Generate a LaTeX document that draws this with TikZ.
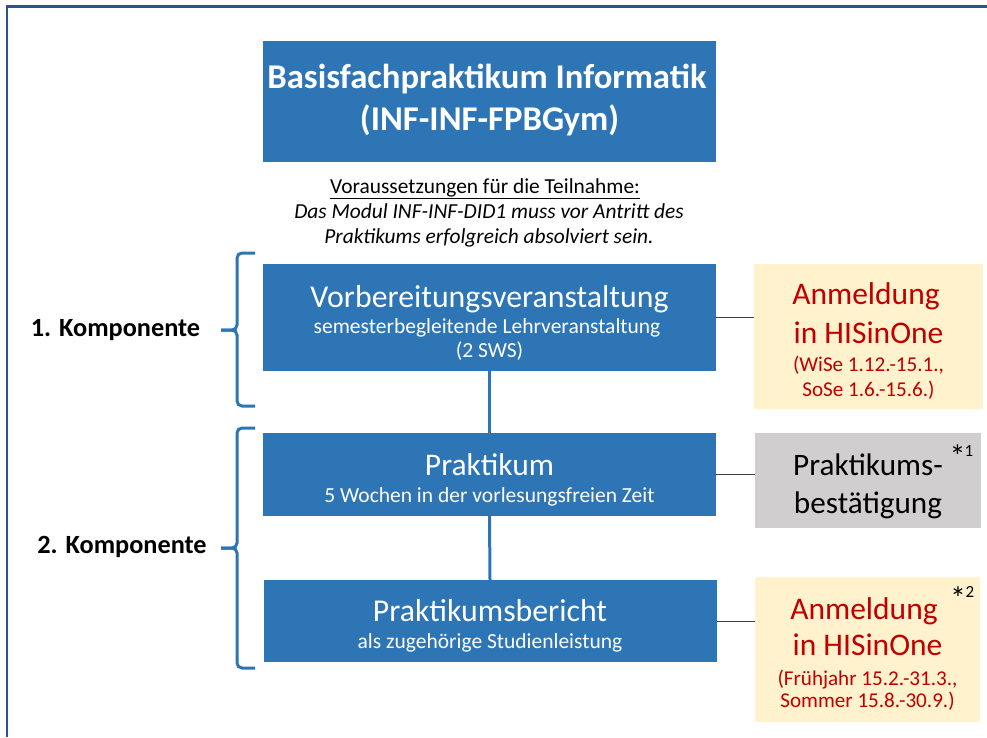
\documentclass[tikz,border=0pt]{standalone}
\usepackage{fontspec}
\setmainfont{Carlito}
\definecolor{boxblue}{HTML}{2E75B6}
\definecolor{framecol}{HTML}{2F528F}
\definecolor{notey}{HTML}{FFF2CC}
\definecolor{noteg}{HTML}{D0CECE}
\definecolor{notered}{HTML}{C00000}
\definecolor{linegray}{HTML}{404040}
\newcommand{\fs}[1]{\fontsize{#1}{#1}\selectfont}
\begin{document}
\begin{tikzpicture}[x=1pt,y=-1pt,
  bluebox/.style={fill=boxblue, draw=none, inner sep=0pt},
  notebox/.style={draw=none, inner sep=0pt, minimum width=228pt},
  wtxt/.style={anchor=base, text=white, inner sep=0pt},
  btxt/.style={anchor=base, text=black, inner sep=0pt},
  rtxt/.style={anchor=base, text=notered, inner sep=0pt},
  startxt/.style={anchor=base, text=black, inner sep=0pt, font=\fs{32}},
  digtxt/.style={anchor=base, text=black, inner sep=0pt, font=\fs{17}},
  bluecon/.style={draw=boxblue, line width=3pt},
  graycon/.style={draw=linegray, line width=1pt},
  bracestyle/.style={draw=boxblue, line width=3pt, rounded corners=5pt},
]
\useasboundingbox (0,0) rectangle (987,737);
\fill[white] (0,0) rectangle (987,737);
\draw[framecol, line width=2.5pt] (7,737) -- (7,6.5) -- (987,6.5);

% title
\node[bluebox, minimum width=453pt, minimum height=121pt] (title) at (489.5,101) {};
\node[wtxt, font=\fs{34.7}\bfseries] (titleA) at (487,88) {Basisfachpraktikum Informatik};
\node[wtxt, font=\fs{34.7}\bfseries] (titleB) at (489.5,130) {(INF-INF-FPBGym)};

% prerequisites
\node[btxt, font=\fs{21.4}] (preA) at (485,193) {\underline{Voraussetzungen für die Teilnahme:}};
\node[btxt, font=\fs{21.4}\itshape] (preB) at (489,218) {Das Modul INF-INF-DID1 muss vor Antritt des};
\node[btxt, font=\fs{21.4}\itshape] (preC) at (489,243) {Praktikums erfolgreich absolviert sein.};

% main boxes
\node[bluebox, minimum width=453pt, minimum height=107pt] (box1) at (489.5,317.5) {};
\node[wtxt, font=\fs{31.8}] (box1A) at (489.5,307) {Vorbereitungsveranstaltung};
\node[wtxt, font=\fs{21.5}] (box1B) at (487,333) {semesterbegleitende Lehrveranstaltung};
\node[wtxt, font=\fs{21.5}] (box1C) at (489.5,357) {(2 SWS)};

\node[bluebox, minimum width=453pt, minimum height=83pt] (box2) at (489.5,474.5) {};
\node[wtxt, font=\fs{31.5}] (box2A) at (489.5,475) {Praktikum};
\node[wtxt, font=\fs{21.5}] (box2B) at (489.5,502) {5 Wochen in der vorlesungsfreien Zeit};

\node[bluebox, minimum width=453pt, minimum height=82pt] (box3) at (490,621) {};
\node[wtxt, font=\fs{31.8}] (box3A) at (490,621) {Praktikumsbericht};
\node[wtxt, font=\fs{21.5}] (box3B) at (490,648) {als zugehörige Studienleistung};

\draw[bluecon] (box1.south) -- (box2.north);
\draw[bluecon] (box2.south) -- (box3.north);

% right notes
\node[notebox, fill=notey, minimum width=229pt, minimum height=145pt] (noteA) at (868.5,336.5) {};
\node[rtxt, font=\fs{31.5}] (noteA1) at (866,304) {Anmeldung};
\node[rtxt, font=\fs{31.5}] (noteA2) at (868.5,343) {in HISinOne};
\node[rtxt, font=\fs{21.1}] (noteA3) at (868.5,371) {(WiSe 1.12.-15.1.,};
\node[rtxt, font=\fs{21.1}] (noteA4) at (868.5,396) {SoSe 1.6.-15.6.)};

\node[notebox, fill=noteg, minimum width=226pt, minimum height=95pt] (noteB) at (868,480.5) {};
\node[btxt, font=\fs{31.2}] (noteB1) at (868,475) {Praktikums-};
\node[btxt, font=\fs{31.2}] (noteB2) at (868,513) {bestätigung};
\node[startxt] (starB) at (957.5,467) {*};
\node[digtxt] (digB) at (969,456) {1};

\node[notebox, fill=notey, minimum width=225pt, minimum height=145pt] (noteC) at (867.5,649.5) {};
\node[rtxt, font=\fs{31.5}] (noteC1) at (864,619) {Anmeldung};
\node[rtxt, font=\fs{31.5}] (noteC2) at (867.5,655) {in HISinOne};
\node[rtxt, font=\fs{21.1}] (noteC3) at (867.5,685) {(Frühjahr 15.2.-31.3.,};
\node[rtxt, font=\fs{21.1}] (noteC4) at (867.5,707) {Sommer 15.8.-30.9.)};
\node[startxt] (starC) at (958,609) {*};
\node[digtxt] (digC) at (970,597) {2};

\draw[graycon] (box1.east) -- (noteA.west |- box1.east);
\draw[graycon] (box2.east) -- (noteB.west |- box2.east);
\draw[graycon] (box3.east) -- (noteC.west |- box3.east);

% braces
\draw[bracestyle] (255,253) -- (237,253) -- (237,330) -- (221,330);
\draw[bracestyle] (221,330) -- (237,330) -- (237,406) -- (255,406);
\draw[bracestyle] (255,428) -- (237,428) -- (237,548) -- (221,548);
\draw[bracestyle] (221,548) -- (237,548) -- (237,668) -- (255,668);

\node[btxt, font=\fs{26.3}\bfseries] (komp1) at (115.5,336) {1. Komponente};
\node[btxt, font=\fs{26.3}\bfseries] (komp2) at (122,553) {2. Komponente};
\end{tikzpicture}
\end{document}
